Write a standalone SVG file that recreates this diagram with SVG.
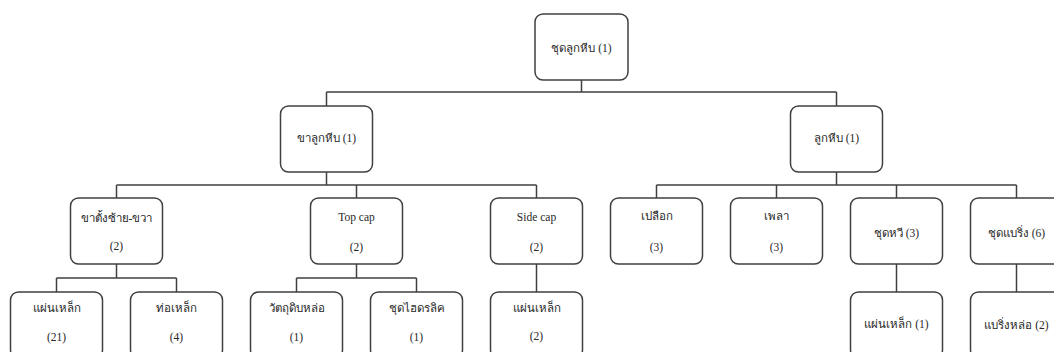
<svg xmlns="http://www.w3.org/2000/svg" width="1054" height="352" viewBox="0 0 1054 352">
  <style>
    .box { fill: #ffffff; stroke: #404040; stroke-width: 1.5; }
    .link { fill: none; stroke: #404040; stroke-width: 1.5; }
    .lbl { font-family: "Liberation Serif", "DejaVu Serif", "Noto Sans", serif; font-size: 11.5px; fill: #262626; text-anchor: middle; dominant-baseline: central; }
  </style>
  <rect width="1054" height="352" fill="#ffffff"/>

  <!-- connectors (elbow tree lines) -->
  <g id="connectors">
    <path class="link" d="M581.5 80 V92 M326.5 92 H836.5 M326.5 92 V106 M836.5 92 V106"/>
    <path class="link" d="M326.5 172 V185 M116.5 185 H536.5 M116.5 185 V198 M356.5 185 V198 M536.5 185 V198"/>
    <path class="link" d="M836.5 172 V185 M656.5 185 H1016.5 M656.5 185 V198 M776.5 185 V198 M896.5 185 V198 M1016.5 185 V198"/>
    <path class="link" d="M116.5 264 V278 M56.5 278 H176.5 M56.5 278 V292 M176.5 278 V292"/>
    <path class="link" d="M356.5 264 V278 M296.5 278 H416.5 M296.5 278 V292 M416.5 278 V292"/>
    <path class="link" d="M536.5 264 V292 M896.5 264 V292 M1016.5 264 V292"/>
  </g>

  <!-- level 1 -->
  <g id="n-root">
    <rect class="box" x="535" y="14" width="93" height="66" rx="8"/>
    <text class="lbl" x="581.5" y="48">ชุดลูกหีบ (1)</text>
  </g>

  <!-- level 2 -->
  <g id="n-legs">
    <rect class="box" x="280.5" y="106" width="92" height="66" rx="8"/>
    <text class="lbl" x="326.5" y="138">ขาลูกหีบ (1)</text>
  </g>
  <g id="n-body">
    <rect class="box" x="790.5" y="106" width="92" height="66" rx="8"/>
    <text class="lbl" x="836.5" y="138">ลูกหีบ (1)</text>
  </g>

  <!-- level 3 -->
  <g id="n-stand">
    <rect class="box" x="70.5" y="198" width="92" height="66" rx="8"/>
    <text class="lbl" x="116.5" y="218">ขาตั้งซ้าย-ขวา</text>
    <text class="lbl" x="116.5" y="246">(2)</text>
  </g>
  <g id="n-topcap">
    <rect class="box" x="310.5" y="198" width="92" height="66" rx="8"/>
    <text class="lbl" x="356.5" y="217">Top cap</text>
    <text class="lbl" x="356.5" y="247">(2)</text>
  </g>
  <g id="n-sidecap">
    <rect class="box" x="490.5" y="198" width="92" height="66" rx="8"/>
    <text class="lbl" x="536.5" y="217">Side cap</text>
    <text class="lbl" x="536.5" y="247">(2)</text>
  </g>
  <g id="n-shell">
    <rect class="box" x="610.5" y="198" width="92" height="66" rx="8"/>
    <text class="lbl" x="656.5" y="216">เปลือก</text>
    <text class="lbl" x="656.5" y="247">(3)</text>
  </g>
  <g id="n-shaft">
    <rect class="box" x="730.5" y="198" width="92" height="66" rx="8"/>
    <text class="lbl" x="776.5" y="216">เพลา</text>
    <text class="lbl" x="776.5" y="247">(3)</text>
  </g>
  <g id="n-comb">
    <rect class="box" x="850.5" y="198" width="92" height="66" rx="8"/>
    <text class="lbl" x="896.5" y="233">ชุดหวี (3)</text>
  </g>
  <g id="n-bearing">
    <rect class="box" x="970.5" y="198" width="92" height="66" rx="8"/>
    <text class="lbl" x="1016.5" y="233">ชุดแบริ่ง (6)</text>
  </g>

  <!-- level 4 -->
  <g id="n-plate-a">
    <rect class="box" x="10.5" y="292" width="92" height="66" rx="8"/>
    <text class="lbl" x="56.5" y="308">แผ่นเหล็ก</text>
    <text class="lbl" x="56.5" y="337">(21)</text>
  </g>
  <g id="n-pipe">
    <rect class="box" x="130.5" y="292" width="92" height="66" rx="8"/>
    <text class="lbl" x="176.5" y="308">ท่อเหล็ก</text>
    <text class="lbl" x="176.5" y="337">(4)</text>
  </g>
  <g id="n-cast">
    <rect class="box" x="250.5" y="292" width="92" height="66" rx="8"/>
    <text class="lbl" x="296.5" y="308">วัตถุดิบหล่อ</text>
    <text class="lbl" x="296.5" y="337">(1)</text>
  </g>
  <g id="n-hydraulic">
    <rect class="box" x="370.5" y="292" width="92" height="66" rx="8"/>
    <text class="lbl" x="416.5" y="308">ชุดไฮดรลิค</text>
    <text class="lbl" x="416.5" y="337">(1)</text>
  </g>
  <g id="n-plate-b">
    <rect class="box" x="490.5" y="292" width="92" height="66" rx="8"/>
    <text class="lbl" x="536.5" y="308">แผ่นเหล็ก</text>
    <text class="lbl" x="536.5" y="336">(2)</text>
  </g>
  <g id="n-plate-c">
    <rect class="box" x="850.5" y="292" width="92" height="66" rx="8"/>
    <text class="lbl" x="896.5" y="324">แผ่นเหล็ก (1)</text>
  </g>
  <g id="n-castbearing">
    <rect class="box" x="970.5" y="292" width="92" height="66" rx="8"/>
    <text class="lbl" x="1016.5" y="325">แบริ่งหล่อ (2)</text>
  </g>
</svg>
